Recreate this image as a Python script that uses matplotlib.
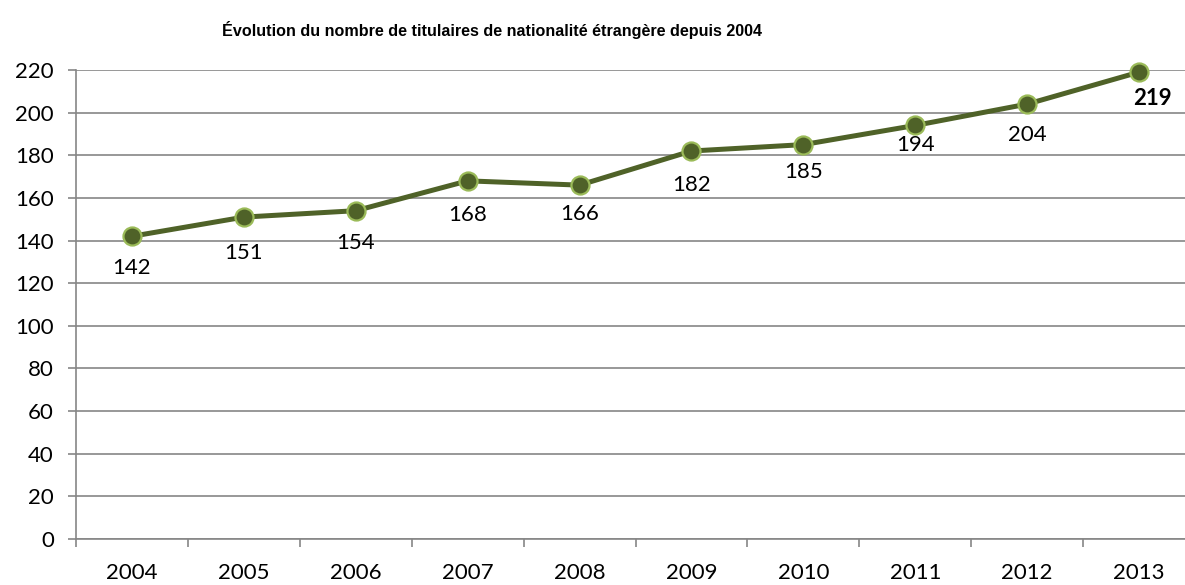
import numpy as np
import matplotlib.pyplot as plt

# Data
years = ['2004', '2005', '2006', '2007', '2008', '2009', '2010', '2011', '2012', '2013']
titulaires = [142, 151, 154, 168, 166, 182, 185, 194, 204, 219]

# label offsets below each point (pixels), Excel-style manual placement
label_dy = [-32, -36, -32, -34, -29, -34, -27, -20, -31, -26]
label_dx = [0, 0, 0, 0, 0, 0, 0, 0, 0, 13]

line_color = '#4F6228'
edge_color = '#9BBB59'
grid_color = '#868686'
font = 'Lato'

fig = plt.figure(figsize=(11.85, 5.85), dpi=100)
ax = fig.add_axes([76 / 1185, 1 - 539 / 585, 1119 / 1185, 469 / 585])

x = np.arange(len(years))
ax.plot(x, titulaires, color=line_color, lw=3.6, marker='o', markersize=13,
        markerfacecolor=line_color, markeredgecolor=edge_color, markeredgewidth=1.6,
        zorder=3, clip_on=False)

for i, v in enumerate(titulaires):
    bold = i == len(titulaires) - 1
    ax.annotate(str(v), (x[i], v), xytext=(label_dx[i] * 0.72, label_dy[i] * 0.72),
                textcoords='offset points', ha='center', va='center',
                fontsize=16, family=font, fontweight='bold' if bold else 'normal',
                color='black')

ax.set_xlim(-0.5, len(years) - 0.5)
ax.set_ylim(0, 220)
ax.set_yticks(range(0, 221, 20))
ax.yaxis.grid(True, color=grid_color, lw=1.2)
ax.set_axisbelow(True)

ax.set_xticks(x)
ax.set_xticklabels(years)
ax.set_xticks(np.arange(-0.5, len(years)), minor=True)
ax.tick_params(axis='x', which='major', length=0, pad=17)
ax.tick_params(axis='x', which='minor', length=6, color=grid_color, width=1.2)
ax.tick_params(axis='y', length=6, color=grid_color, width=1.2, pad=10)
for lab in ax.get_xticklabels() + ax.get_yticklabels():
    lab.set_family(font)
    lab.set_fontsize(16)

for side in ['top', 'right']:
    ax.spines[side].set_visible(False)
for side in ['left', 'bottom']:
    ax.spines[side].set_color(grid_color)
    ax.spines[side].set_linewidth(1.2)

fig.text(492 / 1185, 1 - 30 / 585,
         'Évolution du nombre de titulaires de nationalité étrangère depuis 2004',
         ha='center', va='center', fontsize=11.6, fontweight='bold',
         family='Liberation Sans')

fig.savefig('out.png', dpi=100)
